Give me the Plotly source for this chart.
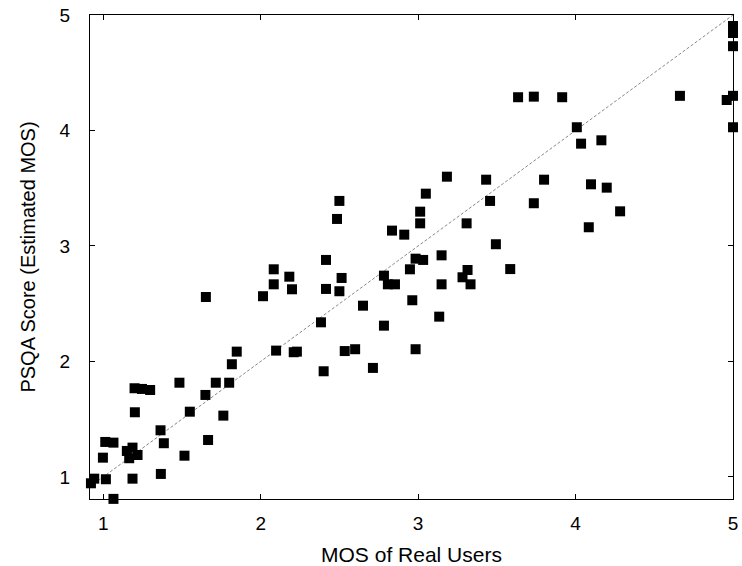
import plotly.graph_objects as go

# MOS of real users (x) vs PSQA estimated MOS (y)
mos_real = [
    1.848, 2.098, 2.21, 2.23, 1.817, 1.484, 1.715, 1.80, 1.199, 1.246,
    1.298, 1.649, 1.55, 1.201, 1.763, 1.364, 1.385, 1.666, 1.013, 1.065,
    1.15, 1.186, 1.218, 1.165, 0.998, 1.516, 1.366, 1.186, 1.017, 0.943,
    0.922, 0.913, 0.913, 1.065, 1.652, 3.183, 3.432, 3.049, 2.50, 3.457,
    3.013, 2.485, 3.013, 3.308, 2.834, 2.912, 3.494, 2.415, 2.083, 2.984,
    3.032, 3.149, 2.948, 3.314, 3.282, 2.182, 2.514, 2.783, 2.083, 2.199,
    2.415, 2.50, 2.808, 2.853, 3.149, 3.333, 2.015, 2.65, 2.963, 3.134,
    2.383, 2.783, 2.534, 2.60, 2.984, 2.40, 2.713, 5.0, 5.0, 5.0,
    3.635, 3.735, 3.915, 4.663, 5.0, 4.96, 5.0, 4.008, 4.035, 4.164,
    3.80, 4.098, 4.198, 3.735, 4.283, 4.084, 3.585,
]
psqa_score = [
    2.085, 2.094, 2.08, 2.085, 1.976, 1.816, 1.816, 1.816, 1.768, 1.762,
    1.753, 1.71, 1.565, 1.56, 1.531, 1.404, 1.292, 1.32, 1.303, 1.297,
    1.225, 1.254, 1.19, 1.162, 1.167, 1.184, 1.026, 0.985, 0.98, 0.985,
    0.945, 0.853, 0.896, 0.81, 2.558, 3.60, 3.574, 3.453, 3.39, 3.39,
    3.297, 3.234, 3.196, 3.196, 3.133, 3.098, 3.015, 2.879, 2.798, 2.89,
    2.879, 2.919, 2.798, 2.792, 2.729, 2.734, 2.723, 2.743, 2.668, 2.625,
    2.628, 2.608, 2.668, 2.668, 2.668, 2.668, 2.565, 2.483, 2.53, 2.388,
    2.339, 2.31, 2.09, 2.106, 2.106, 1.915, 1.944, 4.905, 4.844, 4.73,
    4.288, 4.293, 4.288, 4.30, 4.30, 4.264, 4.028, 4.028, 3.886, 3.915,
    3.574, 3.534, 3.505, 3.37, 3.30, 3.162, 2.80,
]

diag = [0.916, 5.0]
tick_vals = [1, 2, 3, 4, 5]
tick_text = ["1", "2", "3", "4", "5"]

FONT = "Liberation Sans, Arial, Helvetica, sans-serif"

fig = go.Figure()
fig.add_trace(go.Scatter(
    x=diag, y=diag, mode="lines",
    line=dict(color="#888888", width=1, dash="3px,2px"),
    hoverinfo="skip", showlegend=False,
))
fig.add_trace(go.Scatter(
    x=mos_real, y=psqa_score, mode="markers",
    marker=dict(symbol="square", size=10, color="black", line=dict(width=0)),
    cliponaxis=False, showlegend=False,
))

axis_common = dict(
    showgrid=False, zeroline=False,
    showline=True, linecolor="black", linewidth=1, mirror="ticks",
    ticks="inside", ticklen=5, tickwidth=1, tickcolor="black",
    tickvals=tick_vals, ticktext=tick_text,
    tickfont=dict(family=FONT, size=19, color="black"),
)

fig.update_layout(
    width=742, height=566,
    margin=dict(l=90, r=9, t=15, b=67, autoexpand=False),
    paper_bgcolor="white", plot_bgcolor="white",
    font=dict(family=FONT, color="black"),
    xaxis=dict(range=[0.916, 5.0], title=dict(text="MOS of Real Users",
               font=dict(family=FONT, size=21), standoff=15),
               ticklabelstandoff=7, automargin=False, **axis_common),
    yaxis=dict(range=[0.809, 5.0], title=dict(text="PSQA Score (Estimated MOS)",
               font=dict(family=FONT, size=20), standoff=18),
               ticklabelstandoff=15, automargin=False, **axis_common),
)

fig.write_html("out.html")
